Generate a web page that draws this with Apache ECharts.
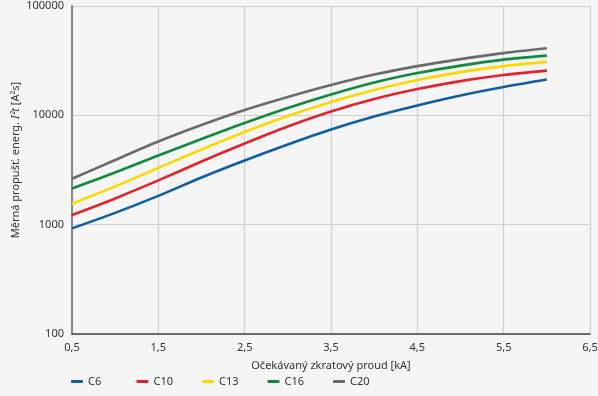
<!DOCTYPE html>
<html>
<head>
<meta charset="utf-8">
<script src="https://cdn.jsdelivr.net/npm/echarts@6/dist/echarts.min.js"></script>
<style>
html,body{margin:0;padding:0;background:#f5f5f5;}
#c{width:598px;height:396px;}
</style>
</head>
<body>
<div id="c"></div>
<script>
var currents = [0.5, 1, 1.5, 2, 2.5, 3, 3.5, 4, 4.5, 5, 5.5, 6];
var C6  = [925, 1282, 1832, 2704, 3866, 5412, 7420, 9750, 12290, 15170, 18140, 21230];
var C10 = [1224, 1738, 2539, 3785, 5527, 7900, 10830, 14090, 17380, 20560, 23350, 25650];
var C13 = [1555, 2238, 3301, 4872, 7040, 9854, 13230, 17020, 21010, 24860, 28200, 30800];
var C16 = [2145, 3004, 4295, 6074, 8505, 11660, 15490, 19930, 24340, 28500, 32330, 35170];
var C20 = [2630, 3907, 5764, 8153, 11180, 14700, 18910, 23590, 28200, 32670, 37070, 41010];
var seriesNames = ['C6', 'C10', 'C13', 'C16', 'C20'];
var seriesData = [C6, C10, C13, C16, C20];
var colors = ['#0f5fa6', '#e3232c', '#fbd900', '#108a3e', '#6b6b6b'];
var xTicks = [0.5, 1.5, 2.5, 3.5, 4.5, 5.5, 6.5];

function pairs(ys) { return currents.map(function (x, i) { return [x, ys[i]]; }); }

var chart = echarts.init(document.getElementById('c'), null, {renderer: 'canvas'});
var font = 'Noto Sans';
chart.setOption({
  backgroundColor: '#f5f5f5',
  animation: false,
  textStyle: {fontFamily: font},
  grid: {left: 72, right: 8, top: 6, bottom: 62, containLabel: false, outerBoundsMode: 'none'},
  legend: seriesNames.map(function (n, i) {
    return {
      left: 66 + i * 65.5, top: 371,
      data: [n],
      icon: 'roundRect',
      itemWidth: 12, itemHeight: 3, itemGap: 4,
      textStyle: {fontSize: 11, color: '#333', fontFamily: font}
    };
  }),
  xAxis: {
    type: 'value', min: 0.5, max: 6.5,
    name: 'Očekávaný zkratový proud [kA]',
    nameLocation: 'middle', nameGap: 26,
    nameTextStyle: {fontSize: 11, color: '#333'},
    axisLine: {show: true, lineStyle: {color: '#444', width: 1.5}},
    axisTick: {show: false, customValues: xTicks},
    axisLabel: {customValues: xTicks, fontSize: 11, color: '#333', margin: 8,
      formatter: function (v) { return v.toFixed(1).replace('.', ','); }},
    splitLine: {show: true, lineStyle: {color: '#cfcfcf', width: 1.2}}
  },
  yAxis: {
    type: 'log', logBase: 10, min: 100, max: 100000,
    name: 'Měrná propušť. energ. {i|I²t} [A²s]',
    nameLocation: 'middle', nameGap: 51, nameMoveOverlap: false,
    nameTextStyle: {fontSize: 11, color: '#333', padding: [0, 0, 0, 20],
      rich: {i: {fontStyle: 'italic', fontSize: 11, color: '#333'}}},
    axisLine: {show: true, lineStyle: {color: '#888', width: 2}},
    axisTick: {show: false},
    axisLabel: {fontSize: 11, color: '#333', margin: 8,
      formatter: function (v) { return String(Math.round(v)); }},
    splitLine: {show: true, lineStyle: {color: '#cfcfcf', width: 1.2}}
  },
  series: seriesNames.map(function (n, i) {
    return {
      name: n, type: 'line', data: pairs(seriesData[i]),
      smooth: 0.3, showSymbol: false, symbol: 'none',
      lineStyle: {color: colors[i], width: 2.6},
      itemStyle: {color: colors[i]}
    };
  })
});
</script>
</body>
</html>
